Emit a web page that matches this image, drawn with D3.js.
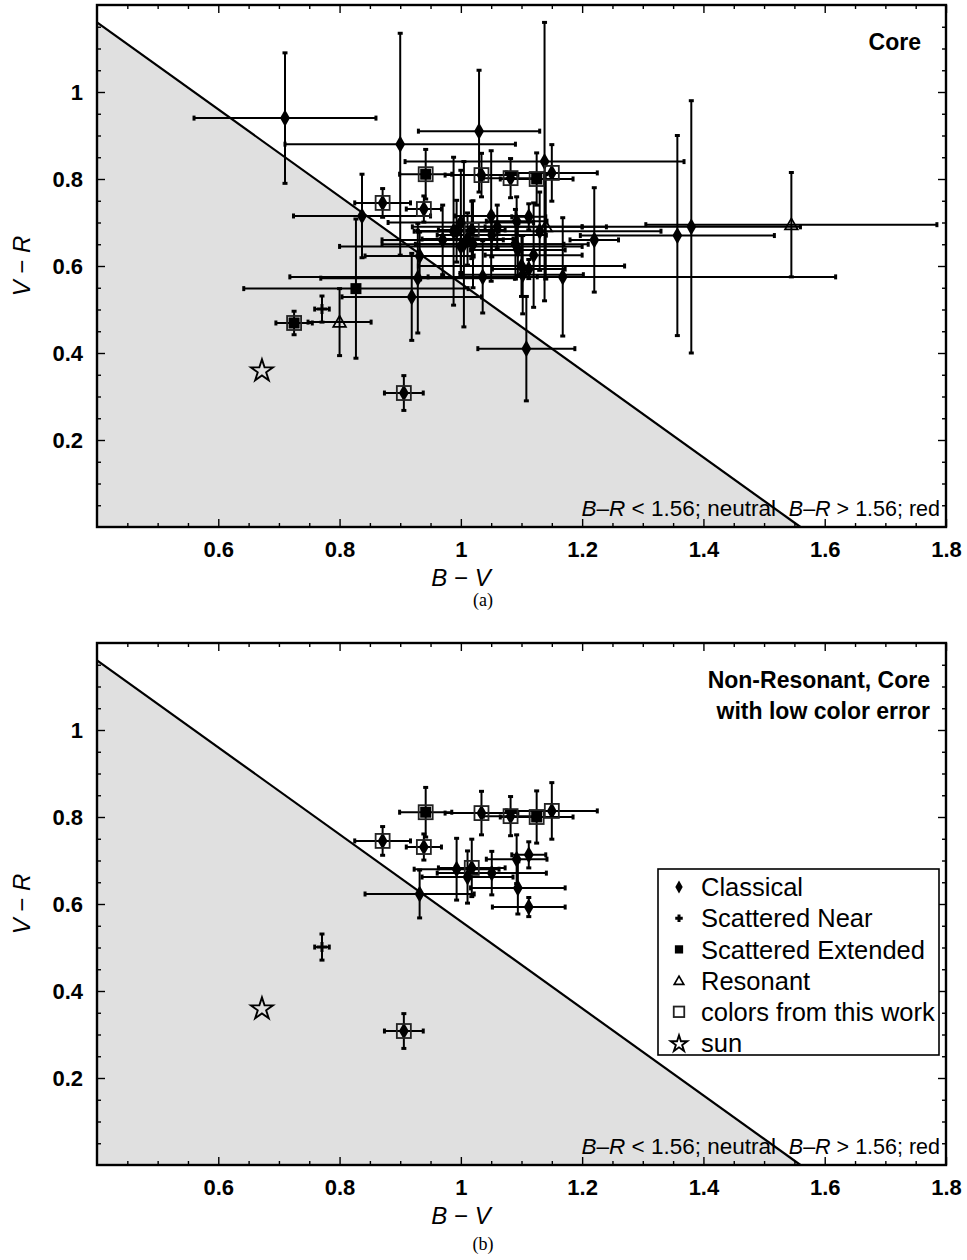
<!DOCTYPE html>
<html>
<head>
<meta charset="utf-8">
<script src="https://cdn.jsdelivr.net/npm/d3@7"></script>
<style>
body { margin: 0; background: #fff; }
text { font-family: "Liberation Sans", Arial, sans-serif; fill: #000; }
.tick text { font-family: "Liberation Sans", Arial, sans-serif; font-weight: bold; font-size: 22px; }
</style>
</head>
<body>
<svg id="chart" width="967" height="1260"></svg>
<script>
// axis setup
const xTicks = [0.6, 0.8, 1, 1.2, 1.4, 1.6, 1.8];
const yTicks = [0.2, 0.4, 0.6, 0.8, 1];
const xDomain = [0.4, 1.8];
const yDomain = [0, 1.2];
const neutralLimit = 1.56; // B-R = (B-V) + (V-R)

// rows: B-V, V-R, err(B-V), err(V-R), class, colour from this work (1/0)
// C = Classical, SN = Scattered Near, SE = Scattered Extended, R = Resonant
const corePoints = [
  [0.71, 0.94, 0.15, 0.15, "C", 0],
  [0.90, 0.88, 0.19, 0.255, "C", 0],
  [1.03, 0.91, 0.10, 0.14, "C", 0],
  [1.138, 0.84, 0.23, 0.32, "C", 0],
  [0.942, 0.811, 0.043, 0.057, "SE", 1],
  [1.034, 0.809, 0.06, 0.05, "C", 1],
  [1.082, 0.802, 0.045, 0.045, "C", 1],
  [1.125, 0.80, 0.06, 0.06, "SE", 1],
  [1.15, 0.814, 0.075, 0.065, "C", 1],
  [0.871, 0.745, 0.046, 0.033, "C", 1],
  [0.939, 0.731, 0.029, 0.03, "C", 1],
  [0.837, 0.715, 0.113, 0.096, "C", 0],
  [1.545, 0.695, 0.24, 0.12, "R", 0],
  [1.38, 0.69, 0.18, 0.29, "C", 0],
  [1.357, 0.67, 0.16, 0.23, "C", 0],
  [1.22, 0.66, 0.04, 0.12, "C", 0],
  [0.993, 0.68, 0.07, 0.071, "C", 0],
  [1.018, 0.683, 0.055, 0.066, "C", 1],
  [1.011, 0.662, 0.075, 0.06, "C", 0],
  [1.051, 0.671, 0.09, 0.05, "C", 0],
  [1.092, 0.703, 0.05, 0.056, "C", 0],
  [1.112, 0.713, 0.028, 0.03, "C", 0],
  [1.094, 0.637, 0.078, 0.06, "C", 0],
  [1.112, 0.593, 0.06, 0.022, "C", 0],
  [0.932, 0.623, 0.09, 0.055, "C", 0],
  [0.929, 0.572, 0.16, 0.126, "C", 0],
  [0.919, 0.529, 0.115, 0.10, "C", 0],
  [0.827, 0.548, 0.185, 0.16, "SE", 0],
  [0.80, 0.471, 0.052, 0.077, "R", 0],
  [0.771, 0.501, 0.012, 0.03, "SN", 0],
  [0.725, 0.469, 0.03, 0.027, "SE", 1],
  [0.906, 0.308, 0.032, 0.04, "C", 1],
  [1.108, 0.41, 0.08, 0.12, "C", 0],
  [1.036, 0.575, 0.09, 0.083, "C", 0],
  [1.168, 0.575, 0.45, 0.136, "C", 0],
  [1.102, 0.58, 0.10, 0.09, "C", 0],
  [1.00, 0.70, 0.12, 0.12, "C", 0],
  [1.02, 0.65, 0.15, 0.10, "C", 0],
  [1.09, 0.65, 0.12, 0.08, "C", 0],
  [1.13, 0.68, 0.20, 0.09, "C", 0],
  [1.14, 0.69, 0.10, 0.12, "R", 0],
  [0.988, 0.68, 0.06, 0.17, "C", 0],
  [1.005, 0.65, 0.08, 0.19, "C", 0],
  [1.00, 0.645, 0.20, 0.06, "C", 0],
  [1.10, 0.60, 0.17, 0.07, "C", 0],
  [1.06, 0.69, 0.14, 0.05, "C", 0],
  [0.97, 0.66, 0.10, 0.08, "C", 0],
  [1.12, 0.625, 0.08, 0.12, "C", 0],
  [1.05, 0.715, 0.06, 0.15, "C", 0]
];

const lowErrorPoints = [
  [0.942, 0.811, 0.043, 0.057, "SE", 1],
  [1.034, 0.809, 0.06, 0.05, "C", 1],
  [1.082, 0.802, 0.045, 0.045, "C", 1],
  [1.125, 0.80, 0.06, 0.06, "SE", 1],
  [1.15, 0.814, 0.075, 0.065, "C", 1],
  [0.871, 0.745, 0.046, 0.033, "C", 1],
  [0.939, 0.731, 0.029, 0.03, "C", 1],
  [0.993, 0.68, 0.07, 0.071, "C", 0],
  [1.018, 0.683, 0.055, 0.066, "C", 1],
  [1.011, 0.662, 0.075, 0.06, "C", 0],
  [1.051, 0.671, 0.09, 0.05, "C", 0],
  [1.092, 0.703, 0.05, 0.056, "C", 0],
  [1.112, 0.713, 0.028, 0.03, "C", 0],
  [1.094, 0.637, 0.078, 0.06, "C", 0],
  [1.112, 0.593, 0.06, 0.022, "C", 0],
  [0.932, 0.623, 0.09, 0.055, "C", 0],
  [0.771, 0.501, 0.012, 0.03, "SN", 0],
  [0.906, 0.308, 0.032, 0.04, "C", 1]
];

const sun = [0.672, 0.361];

const legendItems = [
  ["C", "Classical"],
  ["SN", "Scattered Near"],
  ["SE", "Scattered Extended"],
  ["R", "Resonant"],
  ["ours", "colors from this work"],
  ["sun", "sun"]
];

const svg = d3.select("#chart");

/**
 * Draws one marker of the given kind centred at (cx, cy)
 */
function marker(g, kind, cx, cy, scale) {
  let s = scale || 1;
  if (kind === "C") {
    g.append("path").attr("d", d3.symbol(d3.symbolDiamond, 85 * s * s)())
      .attr("transform", `translate(${cx},${cy})`).attr("fill", "#000");
  } else if (kind === "SN") {
    g.append("path").attr("d", `M${-5*s},0H${5*s}M0,${-5*s}V${5*s}`)
      .attr("transform", `translate(${cx},${cy})`)
      .attr("stroke", "#000").attr("stroke-width", 3).attr("fill", "none");
  } else if (kind === "SE") {
    g.append("rect").attr("x", cx - 5.5 * s).attr("y", cy - 5.5 * s)
      .attr("width", 11 * s).attr("height", 11 * s).attr("fill", "#000");
  } else if (kind === "R") {
    g.append("path").attr("d", d3.symbol(d3.symbolTriangle, 70 * s * s)())
      .attr("transform", `translate(${cx},${cy + 1})`)
      .attr("fill", "none").attr("stroke", "#000").attr("stroke-width", 1.7);
  } else if (kind === "ours") {
    g.append("rect").attr("x", cx - 7 * s).attr("y", cy - 7 * s)
      .attr("width", 14 * s).attr("height", 14 * s)
      .attr("fill", "none").attr("stroke", "#222").attr("stroke-width", 1.8);
  } else if (kind === "sun") {
    g.append("path").attr("d", d3.symbol(d3.symbolStar, 150 * s * s)())
      .attr("transform", `translate(${cx},${cy + 1})`)
      .attr("fill", "none").attr("stroke", "#000").attr("stroke-width", 1.9);
  }
}

function drawPanel(points, opts) {
  const x = d3.scaleLinear().domain(xDomain).range([97, 946]);
  const y = d3.scaleLinear().domain(yDomain).range([opts.bottom, opts.top]);
  const g = svg.append("g");
  const line = d3.line().x(d => x(d[0])).y(d => y(d[1]));

  // neutral region below the B-R = 1.56 line
  const boundary = [[xDomain[0], neutralLimit - xDomain[0]], [neutralLimit, yDomain[0]]];
  g.append("path")
    .attr("d", line([[xDomain[0], yDomain[0]]].concat(boundary)) + "Z")
    .attr("fill", "#e0e0e0");
  g.append("path")
    .attr("d", line(boundary))
    .attr("fill", "none").attr("stroke", "#000").attr("stroke-width", 2.2);

  // ticks (inward on all four sides)
  const minorX = d3.range(9, 36).map(i => +(i * 0.05).toFixed(2)).filter(v => !xTicks.includes(v));
  const minorY = d3.range(1, 24).map(i => +(i * 0.05).toFixed(2)).filter(v => !yTicks.includes(v));
  function addAxis(axis, transform) {
    let a = g.append("g").attr("transform", transform).call(axis);
    a.select(".domain").remove();
    a.selectAll("line").attr("stroke", "#000").attr("stroke-width", 1.4);
    return a;
  }
  let fmt = d3.format("");
  addAxis(d3.axisBottom(x).tickValues(xTicks).tickSize(-8).tickPadding(14).tickFormat(fmt), `translate(0,${opts.bottom})`);
  addAxis(d3.axisBottom(x).tickValues(minorX).tickSize(-4).tickFormat(""), `translate(0,${opts.bottom})`);
  addAxis(d3.axisTop(x).tickValues(xTicks).tickSize(-8).tickFormat(""), `translate(0,${opts.top})`);
  addAxis(d3.axisTop(x).tickValues(minorX).tickSize(-4).tickFormat(""), `translate(0,${opts.top})`);
  addAxis(d3.axisLeft(y).tickValues(yTicks).tickSize(-8).tickPadding(14).tickFormat(fmt), "translate(97,0)");
  addAxis(d3.axisLeft(y).tickValues(minorY).tickSize(-4).tickFormat(""), "translate(97,0)");
  addAxis(d3.axisRight(y).tickValues(yTicks).tickSize(-8).tickFormat(""), "translate(946,0)");
  addAxis(d3.axisRight(y).tickValues(minorY).tickSize(-4).tickFormat(""), "translate(946,0)");

  // error bars
  const bars = g.append("g").attr("stroke", "#000").attr("fill", "none");
  points.forEach(p => {
    let [bv, vr, ebv, evr] = p;
    let x0 = x(bv - ebv), x1 = x(bv + ebv), y0 = y(vr - evr), y1 = y(vr + evr);
    bars.append("line").attr("x1", x0).attr("x2", x1).attr("y1", y(vr)).attr("y2", y(vr)).attr("stroke-width", 2);
    bars.append("line").attr("x1", x(bv)).attr("x2", x(bv)).attr("y1", y0).attr("y2", y1).attr("stroke-width", 2);
    [x0, x1].forEach(xx => bars.append("line").attr("x1", xx).attr("x2", xx)
      .attr("y1", y(vr) - 2.5).attr("y2", y(vr) + 2.5).attr("stroke-width", 3));
    [y0, y1].forEach(yy => bars.append("line").attr("y1", yy).attr("y2", yy)
      .attr("x1", x(bv) - 2.5).attr("x2", x(bv) + 2.5).attr("stroke-width", 3));
  });

  // markers
  const marks = g.append("g");
  points.forEach(p => {
    marker(marks, p[4], x(p[0]), y(p[1]));
    if (p[5]) marker(marks, "ours", x(p[0]), y(p[1]));
  });
  marker(marks, "sun", x(sun[0]), y(sun[1]));

  // frame
  g.append("rect").attr("x", 97).attr("y", opts.top)
    .attr("width", 946 - 97).attr("height", opts.bottom - opts.top)
    .attr("fill", "none").attr("stroke", "#000").attr("stroke-width", 2.4);

  // region labels
  const region = g.append("g");
  let t1 = region.append("text").attr("x", 776).attr("y", opts.bottom - 11)
    .attr("text-anchor", "end").style("font-size", "22.5px");
  t1.append("tspan").style("font-style", "italic").text("B");
  t1.append("tspan").text("–");
  t1.append("tspan").style("font-style", "italic").text("R");
  t1.append("tspan").text(" < 1.56; neutral");
  let t2 = region.append("text").attr("x", 940).attr("y", opts.bottom - 11)
    .attr("text-anchor", "end").style("font-size", "21.5px");
  t2.append("tspan").style("font-style", "italic").text("B");
  t2.append("tspan").text("–");
  t2.append("tspan").style("font-style", "italic").text("R");
  t2.append("tspan").text(" > 1.56; red");

  // panel title
  opts.title.forEach((s, i) => {
    g.append("text").attr("x", opts.titleX).attr("y", opts.top + 45 + i * 31)
      .attr("text-anchor", "end").style("font-weight", "bold").style("font-size", "23px").text(s);
  });

  // axis titles
  let xt = g.append("text").attr("x", 461).attr("y", opts.bottom + 59)
    .attr("text-anchor", "middle").style("font-size", "24px");
  xt.append("tspan").style("font-style", "italic").text("B");
  xt.append("tspan").text(" − ");
  xt.append("tspan").style("font-style", "italic").text("V");
  let midY = (opts.top + opts.bottom) / 2;
  let yt = g.append("text").attr("transform", `translate(30,${midY}) rotate(-90)`)
    .attr("text-anchor", "middle").style("font-size", "24px");
  yt.append("tspan").style("font-style", "italic").text("V");
  yt.append("tspan").text(" − ");
  yt.append("tspan").style("font-style", "italic").text("R");

  g.append("text").attr("x", 483).attr("y", opts.captionY).attr("text-anchor", "middle")
    .style("font-family", "'Liberation Serif', serif").style("font-size", "18px").text(opts.caption);

  if (opts.legend) {
    const lg = g.append("g");
    lg.append("rect").attr("x", 658).attr("y", 869).attr("width", 281).attr("height", 186)
      .attr("fill", "#fff").attr("stroke", "#000").attr("stroke-width", 1.6);
    legendItems.forEach((d, i) => {
      let cy = 887 + i * 31.2;
      marker(lg, d[0], 679, cy, 0.75);
      lg.append("text").attr("x", 701).attr("y", cy).attr("dy", "0.36em")
        .style("font-size", "25.5px").text(d[1]);
    });
  }
}

drawPanel(corePoints, {
  top: 5, bottom: 527, title: ["Core"], titleX: 921,
  caption: "(a)", captionY: 606, legend: false
});
drawPanel(lowErrorPoints, {
  top: 643, bottom: 1165, title: ["Non-Resonant, Core", "with low color error"], titleX: 930,
  caption: "(b)", captionY: 1250, legend: true
});
</script>
</body>
</html>
